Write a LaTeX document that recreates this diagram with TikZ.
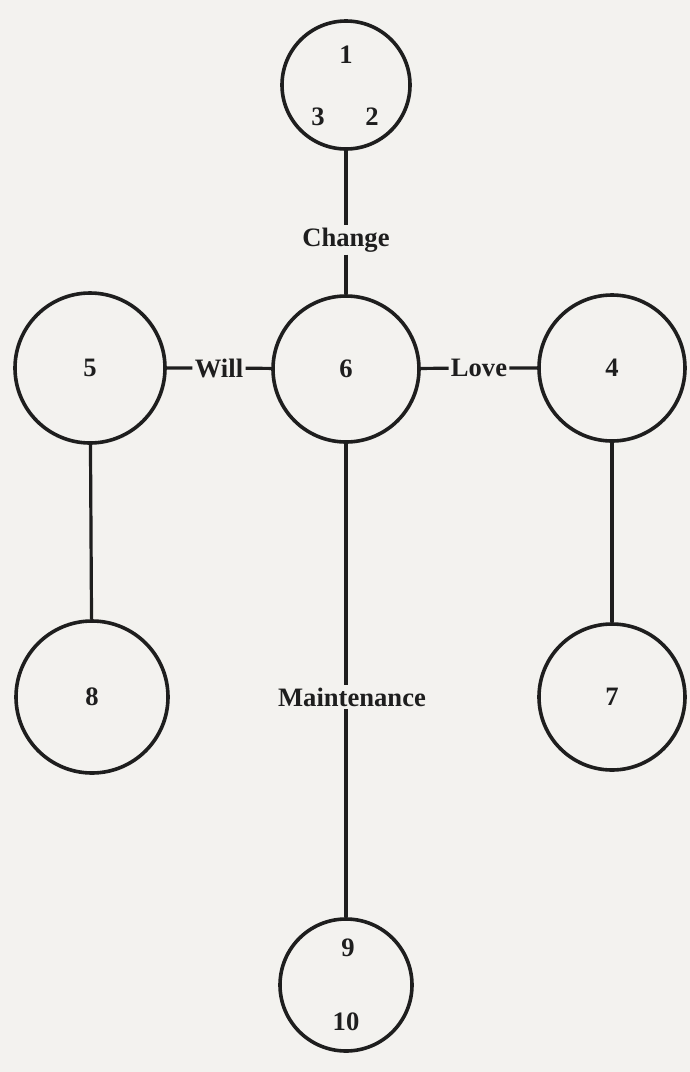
\documentclass[tikz,border=0pt]{standalone}
\usepackage{fontspec}
\setmainfont{Liberation Serif}
\usetikzlibrary{positioning}
\definecolor{paper}{RGB}{243,242,239}
\definecolor{ink}{RGB}{30,30,30}
\begin{document}
\begin{tikzpicture}[x=0.5pt, y=-0.5pt,
  every node/.style={font=\bfseries\fontsize{13.3}{15}\selectfont, text=ink},
  ring/.style={circle, draw=ink, line width=1.8pt, inner sep=0pt, minimum size=#1},
  tag/.style={inner sep=1pt},
  link/.style={draw=ink, line width=1.6pt}]
  % --- page ---
  \fill[paper] (0,0) rectangle (690,1072);
  \useasboundingbox (0,0) rectangle (690,1072);
  % --- circles ---
  \node[ring=64pt] (top)  at (346,85)  {};
  \node[ring=73pt] (hub)  at (346,369) {6};
  \node[ring=75pt] (left) at (90,368)  {5};
  \node[ring=73pt] (right) at (612,368) {4};
  \node[ring=76pt] (lowl) at (92,697)  {8};
  \node[ring=73pt] (lowr) at (612,697) {7};
  \node[ring=66pt] (bot)  at (346,985) {};
  % numbers inside the top and bottom circles
  \node at (346,55)  {1};
  \node at (318,117) {3};
  \node at (372,117) {2};
  \node at (348,948) {9};
  \node at (346,1022) {10};
  % --- connector labels ---
  \node[tag] (change) at (346,240) {Change};
  \node[tag] (will)   at (219,368) {Will};
  \node[tag] (love)   at (479,368) {Love};
  \node[tag] (maint)  at (352,697) {Maintenance};
  % --- connectors ---
  \draw[link] (top) -- (change) -- (hub);
  \draw[link] (left) -- (will) -- (hub);
  \draw[link] (hub) -- (love) -- (right);
  \draw[link] (hub) -- (maint.north -| hub.south);
  \draw[link] (maint.south -| bot.north) -- (bot);
  \draw[link] (left) -- (lowl);
  \draw[link] (right) -- (lowr);
\end{tikzpicture}
\end{document}
